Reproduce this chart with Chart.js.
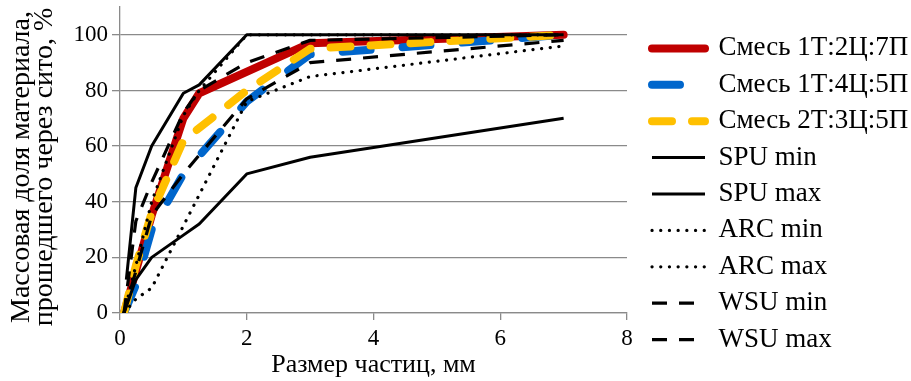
<!DOCTYPE html>
<html>
<head>
<meta charset="utf-8">
<script src="https://cdn.jsdelivr.net/npm/chart.js@4/dist/chart.umd.min.js"></script>
<style>
  html, body { margin: 0; padding: 0; background: #ffffff; }
  #wrap { width: 911px; height: 381px; }
</style>
</head>
<body>
<div id="wrap"><canvas id="c" width="911" height="381"></canvas></div>
<script>
// ---- data ----
const seriesLabels = ['Смесь 1Т:2Ц:7П', 'Смесь 1Т:4Ц:5П', 'Смесь 2Т:3Ц:5П',
  'SPU min', 'SPU max', 'ARC min', 'ARC max', 'WSU min', 'WSU max'];

const mix1X = [0.063, 0.5, 1, 1.25, 3, 7];
const mix1Y = [0, 35, 70, 79, 97, 100];

const mix2X = [0.063, 0.25, 0.5, 1, 2, 3, 7];
const mix2Y = [0, 10, 30, 50, 76, 93, 100];

const mix3X = [0.063, 0.25, 0.5, 1, 2, 3, 7];
const mix3Y = [0, 17, 36, 62, 80, 95, 100];

const spuMinX = [0.063, 0.25, 0.5, 1, 1.25, 2, 3, 7];
const spuMinY = [0, 12, 20, 28, 32, 50, 56, 70];

const spuMaxX = [0.1, 0.25, 0.5, 1, 1.25, 2, 7];
const spuMaxY = [12, 45, 60, 79, 82, 100, 100];

const arcMinX = [0.063, 0.25, 0.5, 2, 3, 7];
const arcMinY = [0, 5, 9, 76, 85, 96];

const arcMaxX = [0.063, 0.25, 0.5, 1, 1.25, 2, 7];
const arcMaxY = [0, 17, 40, 71, 80, 100, 100];

const wsuMinX = [0.063, 0.25, 0.5, 0.63, 1, 2, 3, 7];
const wsuMinY = [0, 15, 35, 39, 50, 77, 90, 98];

const wsuMaxX = [0.063, 0.25, 0.5, 1, 1.25, 2, 3, 7];
const wsuMaxY = [0, 33, 47, 72, 80, 90, 98, 100];

const xTicks = [0, 2, 4, 6, 8];
const yTicks = [0, 20, 40, 60, 80, 100];

const xTitle = 'Размер частиц, мм';
const yTitle = ['Массовая доля материала,  ', 'прошедшего через сито, %  '];

function pts(xs, ys) { return xs.map((x, i) => ({ x: x, y: ys[i] })); }

const FONT = "'Liberation Serif', 'Times New Roman', serif";
const GRID = '#8a8a8a';

const styles = [
  { color: '#C00000', width: 8, dash: [], cap: 'round' },
  { color: '#0066CC', width: 8, dash: [28, 32], cap: 'round' },
  { color: '#FFC000', width: 8, dash: [20, 20], cap: 'round' },
  { color: '#000000', width: 3, dash: [], cap: 'butt' },
  { color: '#000000', width: 3, dash: [], cap: 'butt' },
  { color: '#000000', width: 3.2, dash: [0.1, 8.6], cap: 'round' },
  { color: '#000000', width: 3.2, dash: [0.1, 8.6], cap: 'round' },
  { color: '#000000', width: 3.2, dash: [15, 12], cap: 'butt' },
  { color: '#000000', width: 3.2, dash: [15, 12], cap: 'butt' }
];
const dataPairs = [
  [mix1X, mix1Y], [mix2X, mix2Y], [mix3X, mix3Y],
  [spuMinX, spuMinY], [spuMaxX, spuMaxY],
  [arcMinX, arcMinY], [arcMaxX, arcMaxY],
  [wsuMinX, wsuMinY], [wsuMaxX, wsuMaxY]
];

const datasets = dataPairs.map((p, i) => ({
  label: seriesLabels[i],
  data: pts(p[0], p[1]),
  borderColor: styles[i].color,
  backgroundColor: styles[i].color,
  borderWidth: styles[i].width,
  borderDash: styles[i].dash,
  borderCapStyle: styles[i].cap,
  borderJoinStyle: 'round',
  pointRadius: 0,
  pointHoverRadius: 0,
  tension: 0,
  fill: false,
  order: dataPairs.length - i
}));

// place the legend box a little to the right of the plot area
const legendShift = {
  id: 'legendShift',
  afterLayout(chart) {
    const lg = chart.legend;
    if (lg) {
      lg.left = 642.6;
      lg.right = 911;
      lg.width = lg.right - lg.left;
    }
  }
};

new Chart(document.getElementById('c'), {
  type: 'line',
  data: { datasets: datasets },
  plugins: [legendShift],
  options: {
    responsive: false,
    animation: false,
    devicePixelRatio: 1,
    layout: { padding: { top: 7, left: 0, right: 0, bottom: 0 } },
    plugins: {
      tooltip: { enabled: false },
      legend: {
        position: 'right',
        align: 'center',
        maxWidth: 284,
        labels: {
          usePointStyle: true,
          pointStyle: 'line',
          pointStyleWidth: 53,
          boxWidth: 53,
          boxHeight: 27,
          padding: 9.4,
          color: '#000',
          font: { family: FONT, size: 27 },
          sort: (a, b) => a.datasetIndex - b.datasetIndex,
          generateLabels: (chart) => {
            const items = Chart.defaults.plugins.legend.labels.generateLabels(chart);
            items.forEach((it) => {
              const ds = chart.data.datasets[it.datasetIndex];
              it.lineDash = ds.borderDash;
              it.lineCap = ds.borderCapStyle;
              it.lineWidth = ds.borderWidth;
              it.strokeStyle = ds.borderColor;
              it.fillStyle = ds.borderColor;
              it.pointStyle = 'line';
            });
            return items;
          }
        }
      }
    },
    scales: {
      x: {
        type: 'linear',
        min: 0, max: 8,
        afterBuildTicks: (s) => { s.ticks = xTicks.map(v => ({ value: v })); },
        afterFit: (s) => { s.height = 68; s.paddingRight = 284; },
        border: { color: GRID, width: 1.3 },
        grid: { drawOnChartArea: false, drawTicks: true, tickLength: 7, color: GRID, lineWidth: 1.3 },
        ticks: { color: '#000', font: { family: FONT, size: 23 }, padding: 5, maxRotation: 0 },
        title: { display: true, text: xTitle, color: '#000', font: { family: FONT, size: 26 }, padding: { top: 0, bottom: 0 } }
      },
      y: {
        type: 'linear',
        min: 0, max: 110,
        afterBuildTicks: (s) => { s.ticks = yTicks.map(v => ({ value: v })); },
        afterFit: (s) => { s.width = 120; s.paddingTop = 0; },
        border: { color: GRID, width: 1.3 },
        grid: { drawOnChartArea: true, drawTicks: true, tickLength: 8, color: GRID, lineWidth: 1.3 },
        ticks: { color: '#000', font: { family: FONT, size: 23 }, padding: 4 },
        title: { display: true, text: yTitle, color: '#000', font: { family: FONT, size: 28, lineHeight: 0.83 }, padding: { top: 10, bottom: 13 } }
      }
    }
  }
});
</script>
</body>
</html>
